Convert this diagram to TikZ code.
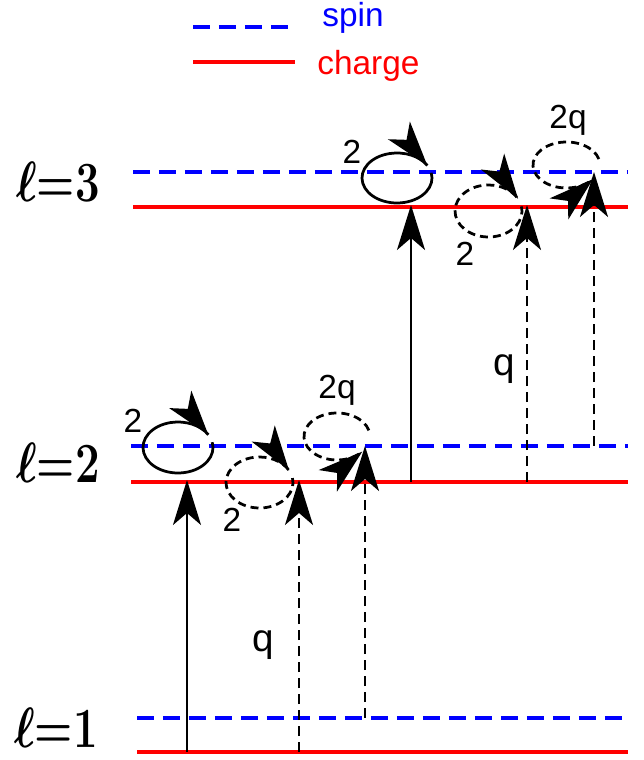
\documentclass[tikz,border=0pt]{standalone}
\usepackage{fontspec}
\setmainfont{Liberation Sans}
\usetikzlibrary{arrows.meta, decorations.markings}

\newcommand{\lvltext}[1]{\scalebox{1}[1.3]{$\ell{=}#1$}}

\begin{document}
\begin{tikzpicture}[x=0.02cm, y=0.02cm,
  spinline/.style={blue, line width=0.08cm, dash pattern=on 0.34cm off 0.18cm},
  chargeline/.style={red, line width=0.08cm},
  hop/.style={line width=0.05cm, -{Stealth[length=0.9cm, width=0.56cm, inset=0.24cm]}},
  hopd/.style={hop, dash pattern=on 0.2cm off 0.12cm},
  loopa/.style={line width=0.055cm, postaction={decorate, decoration={markings,
    mark=at position 1 with {\arrow{Stealth[length=0.9cm, width=0.56cm, inset=0.24cm]}}}}},
  loopd/.style={loopa, dash pattern=on 0.16cm off 0.1cm},
  lvl/.style={font=\fontsize{28}{30}\selectfont\boldmath, inner sep=0pt},
  lbl/.style={font=\fontsize{19}{21}\selectfont, inner sep=0pt}]
  \useasboundingbox (0,0) rectangle (644,760);

  % 图例
  \draw[spinline] (193,733) -- (295,733);
  \draw[chargeline] (193,698) -- (295,698);
  \node[lbl, blue, anchor=base west] (spin) at (322,733) {spin};
  \node[lbl, red, anchor=base west] (charge) at (317,685) {charge};

  % 三个能级：自旋(虚线)与电荷(实线)
  \foreach \ys/\yc/\xs in {42/8/137, 314/278/131, 588/553/133} {
    \draw[spinline] (\xs,\ys) -- (628,\ys);
    \draw[chargeline] (\xs,\yc) -- (628,\yc);
  }
  \node[lvl] (l1) at (56,32)  {\lvltext{1}};
  \node[lvl] (l2) at (58,297) {\lvltext{2}};
  \node[lvl] (l3) at (58,578) {\lvltext{3}};

  % 竖直跃迁
  \coordinate (a1) at (187,8);   \coordinate (a2) at (187,280);
  \coordinate (b1) at (299,8);   \coordinate (b2) at (299,280);
  \coordinate (d1) at (365,42);  \coordinate (d2) at (365,314);
  \coordinate (e1) at (411,278); \coordinate (e2) at (411,555);
  \coordinate (f1) at (527,278); \coordinate (f2) at (527,555);
  \coordinate (g1) at (594,314); \coordinate (g2) at (594,588);
  \draw[hop]  (a1) -- (a2);
  \draw[hopd] (b1) -- (b2);
  \draw[hopd] (d1) -- (d2);
  \draw[hop]  (e1) -- (e2);
  \draw[hopd] (f1) -- (f2);
  \draw[hopd] (g1) -- (g2);
  \node[lbl, font=\fontsize{22}{24}\selectfont] (q1) at (263,115) {q};
  \node[lbl, font=\fontsize{22}{24}\selectfont] (q2) at (504,391) {q};

  % 环 (l=2)
  \coordinate (s2) at (178,312.5);
  \coordinate (u2) at (259.5,277.5);
  \coordinate (w2) at (337,323.5);
  \draw[loopa] (s2) ++(12:35 and 25.5)
    arc[start angle=12, end angle=-330, x radius=35, y radius=25.5];
  \draw[loopd] (u2) ++(10:33.5 and 25.5)
    arc[start angle=10, end angle=-332, x radius=33.5, y radius=25.5];
  \draw[loopd] (w2) ++(15:33 and 23.5)
    arc[start angle=15, end angle=320, x radius=33, y radius=23.5];
  \node[lbl] (n2s) at (133,339) {2};
  \node[lbl] (n2u) at (232,240) {2};
  \node[lbl] (n2w) at (337,370) {2q};

  % 环 (l=3)
  \coordinate (s3) at (397,582);
  \coordinate (u3) at (488.5,549);
  \coordinate (w3) at (566.5,595);
  \draw[loopa] (s3) ++(12:35 and 25)
    arc[start angle=12, end angle=-330, x radius=35, y radius=25];
  \draw[loopd] (u3) ++(10:33.5 and 26)
    arc[start angle=10, end angle=-332, x radius=33.5, y radius=26];
  \draw[loopd] (w3) ++(15:33.5 and 23)
    arc[start angle=15, end angle=322, x radius=33.5, y radius=23];
  \node[lbl] (n3s) at (352,608.5) {2};
  \node[lbl] (n3u) at (465,506) {2};
  \node[lbl] (n3w) at (568,640) {2q};
\end{tikzpicture}
\end{document}
